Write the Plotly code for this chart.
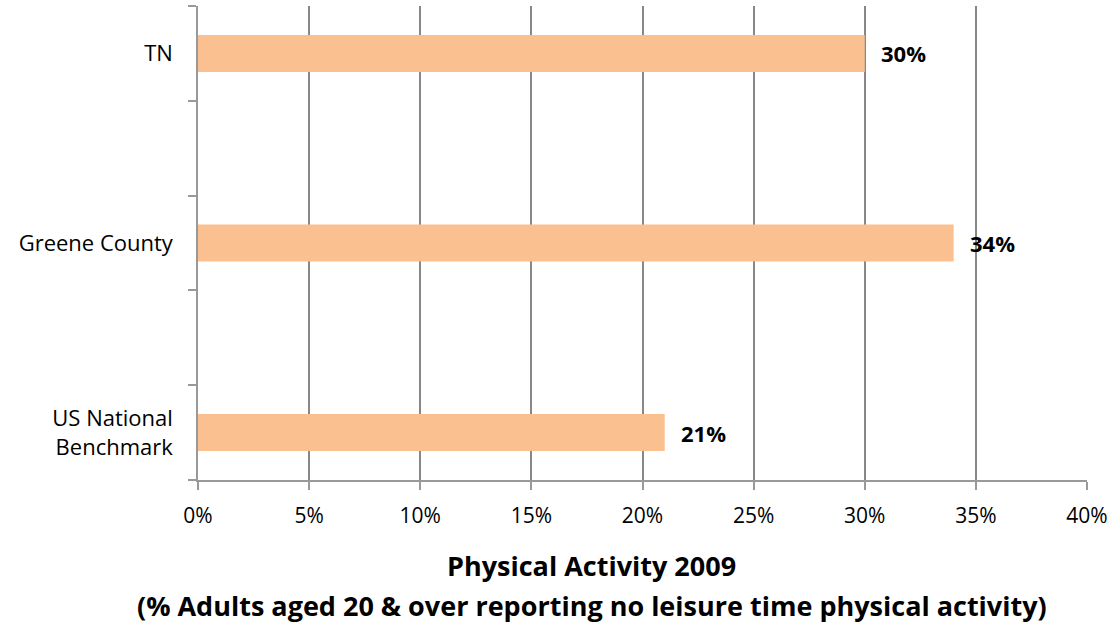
import plotly.graph_objects as go

categories = ["US National<br>Benchmark", "Greene County", "TN"]
values = [21, 34, 30]
labels = ["21%", "34%", "30%"]
# axis has empty spacer slots between the categories (as in the original chart)
axis_order = ["US National<br>Benchmark", " ", "Greene County", "  ", "TN"]
x_ticks = [0, 5, 10, 15, 20, 25, 30, 35, 40]
x_tick_text = [f"{v}%" for v in x_ticks]

FONT = "Open Sans"
fig = go.Figure()
fig.add_trace(go.Bar(
    y=categories, x=values, orientation="h",
    marker=dict(color="#FAC090", line=dict(width=0)),
    width=0.39,
))
for c, v, t in zip(categories, values, labels):
    fig.add_annotation(x=v, y=c, text=f"<b>{t}</b>", showarrow=False,
                       xanchor="left", xshift=14, yshift=0,
                       font=dict(family=FONT, size=22, color="black"))

fig.update_layout(
    width=1118, height=624,
    margin=dict(l=198, r=31, t=6, b=144),
    paper_bgcolor="white", plot_bgcolor="white",
    showlegend=False,
    font=dict(family=FONT, size=22, color="black"),
)
fig.update_xaxes(
    range=[0, 40], tickvals=x_ticks, ticktext=x_tick_text,
    showgrid=True, gridcolor="#878787", gridwidth=1.5,
    showline=True, linecolor="#999999", linewidth=1.5,
    ticks="outside", ticklen=8, tickcolor="#999999", tickwidth=1.5,
    zeroline=False, tickfont=dict(size=21), ticklabelstandoff=8,
)
fig.update_yaxes(
    type="category", categoryorder="array", categoryarray=axis_order,
    range=[-0.5, 4.5],
    tickson="boundaries", ticks="outside", ticklen=8, tickcolor="#999999", tickwidth=1.5,
    showline=True, linecolor="#999999", linewidth=1.5,
    showgrid=False, tickfont=dict(size=22), ticklabelstandoff=19,
)
cx = (591.5 - 198) / 889
fig.add_annotation(xref="paper", yref="paper", x=cx, xanchor="center",
                   y=(480 - 565) / 474, yanchor="middle",
                   text="<b>Physical Activity 2009</b>", showarrow=False,
                   font=dict(family=FONT, size=27))
fig.add_annotation(xref="paper", yref="paper", x=cx, xanchor="center",
                   y=(480 - 605) / 474, yanchor="middle",
                   text="<b>(% Adults aged 20 & over reporting no leisure time physical activity)</b>",
                   showarrow=False, font=dict(family=FONT, size=27))
fig.write_html("out.html")
